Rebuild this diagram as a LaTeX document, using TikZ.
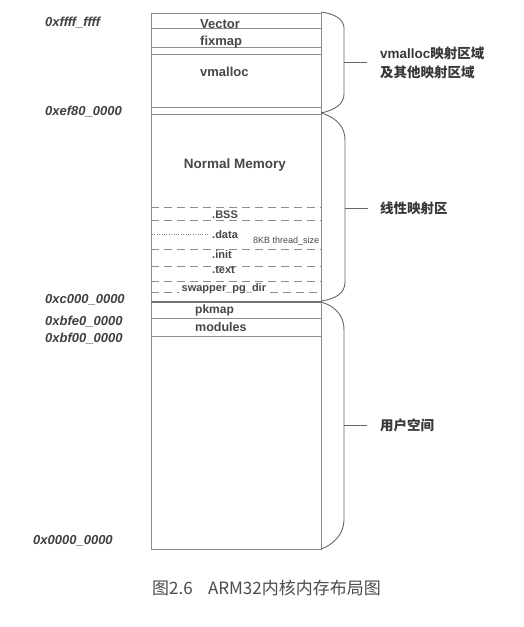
\documentclass[tikz,border=0pt]{standalone}
\usepackage{fontspec}
\setmainfont{Liberation Sans}
\newfontfamily\cjk{Noto Sans CJK SC}
\begin{document}
\begin{tikzpicture}[x=1pt,y=-1pt,
  boxline/.style={draw=black!45,line width=0.6pt},
  dashline/.style={draw=black!45,line width=0.6pt,dash pattern=on 8pt off 5pt},
  dotline/.style={draw=black!45,line width=0.6pt,dash pattern=on 0.8pt off 1.6pt},
  bracel/.style={draw=black!60,line width=0.9pt},
  addr/.style={anchor=west,inner sep=0pt,text=black!75,font=\fontsize{13}{15}\selectfont\bfseries\itshape},
  seg/.style={anchor=west,inner sep=0pt,text=black!72,font=\fontsize{13}{15}\selectfont\bfseries},
  segs/.style={anchor=west,inner sep=0pt,text=black!72,font=\fontsize{11}{13}\selectfont\bfseries},
  side/.style={anchor=west,inner sep=0pt,text=black!78,font=\fontsize{13.5}{16}\selectfont\bfseries}
]
\useasboundingbox[fill=white] (0,0) rectangle (524,627);
% outer box
\draw[boxline] (151,13) rectangle (321,549);
% solid separators
\foreach \yy in {28,47,54,107,114,318.5,336.5}
  \draw[boxline] (151,\yy) -- (321,\yy);
% thick line at 0xc000_0000
\draw[draw=black!55,line width=2pt] (151,302) -- (321,302);
% dashed separators
\foreach \yy in {207.5,220.5,249.5,266,281.5}
  \draw[dashline] (151,\yy) -- (321,\yy);
\draw[dashline] (151,292.5) -- (179,292.5);
\draw[dashline] (270,292.5) -- (321,292.5);
\draw[dotline] (152,234) -- (208,234);

% segment texts
\node[seg] (vec) at (200,24) {Vector};
\node[seg] (fix) at (200,42.5) {fixmap};
\node[seg] (vma) at (200,71.5) {vmalloc};
\node[seg,anchor=center,font=\fontsize{13.5}{16}\selectfont\bfseries] (nm) at (235,165) {Normal Memory};
\node[segs] (bss) at (212,214.5) {.BSS};
\node[segs] (dat) at (212,234.5) {.data};
\node[inner sep=0pt,anchor=west,text=black!72,font=\fontsize{9}{11}\selectfont] (th) at (253,241) {8KB thread\_size};
\node[segs] (ini) at (212,255) {.init};
\node[segs] (txt) at (212,270) {.text};
\node[segs] (swp) at (181.5,288.5) {swapper\_pg\_dir};
\node[segs,font=\fontsize{12}{14}\selectfont\bfseries] (pkm) at (195,310) {pkmap};
\node[segs,font=\fontsize{12.5}{14}\selectfont\bfseries] (mod) at (195,327) {modules};

% addresses
\node[addr] (a1) at (45,23) {0xffff\_ffff};
\node[addr] (a2) at (45,112) {0xef80\_0000};
\node[addr] (a3) at (45,300) {0xc000\_0000};
\node[addr] (a4) at (45,321.5) {0xbfe0\_0000};
\node[addr] (a5) at (45,338.5) {0xbf00\_0000};
\node[addr] (a6) at (33,541) {0x0000\_0000};

% braces
\draw[bracel] (321,12) .. controls (336,14) and (344,20) .. (344,28) -- (344,94) .. controls (344,104) and (335,110) .. (321,113);
\draw[bracel] (321,113) .. controls (338,118) and (345,128) .. (345,140) -- (345,282) .. controls (345,293) and (336,299) .. (321,301);
\draw[bracel] (321,302) .. controls (338,307) and (344,318) .. (344,330) -- (344,520) .. controls (344,534) and (333,545) .. (321,549);
\coordinate (b1) at (344,62);
\coordinate (b2) at (345,208);
\coordinate (b3) at (344,425);
\draw[bracel] (b1) -- ++(23,0) coordinate (t1);
\draw[bracel] (b2) -- ++(23,0) coordinate (t2);
\draw[bracel] (b3) -- ++(23,0) coordinate (t3);

% side labels
\node[side] (s1) at (380,53) {vmalloc{\cjk\bfseries 映射区域}};
\node[side] (s1b) at (380,72) {\cjk\bfseries 及其他映射区域};
\node[side] (s2) at (380,208) {\cjk\bfseries 线性映射区};
\node[side] (s3) at (380,425) {\cjk\bfseries 用户空间};

% caption
\node[inner sep=0pt,text=black!70,font=\cjk\fontsize{17}{20}\selectfont] (cap) at (266.5,588) {图2.6\hspace{0.9em}ARM32内核内存布局图};
\end{tikzpicture}
\end{document}
